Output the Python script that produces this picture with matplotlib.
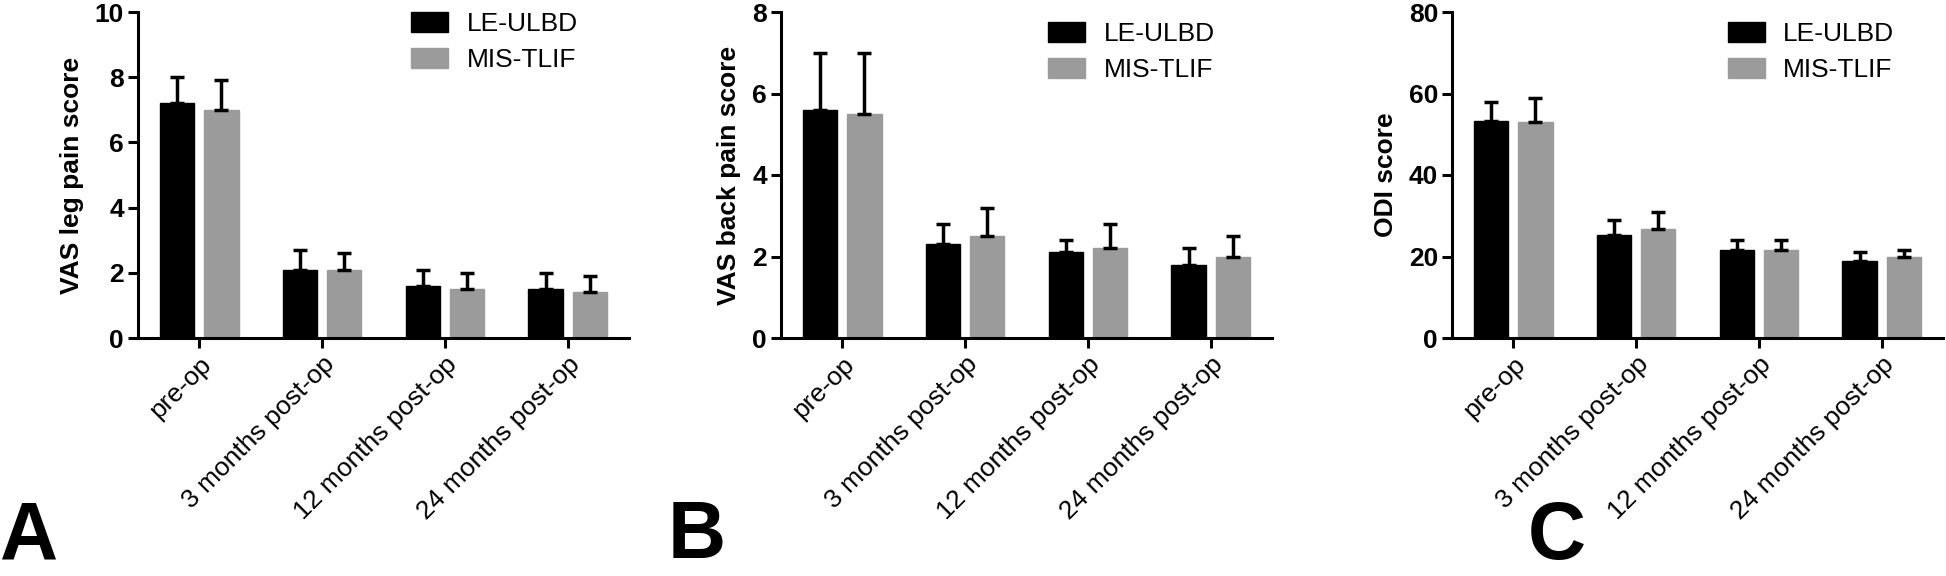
import matplotlib
matplotlib.use("Agg")
import matplotlib.pyplot as plt
import numpy as np

plt.rcParams["font.family"] = ["Liberation Sans", "DejaVu Sans"]

CATEGORIES = ["pre-op", "3 months post-op", "12 months post-op", "24 months post-op"]
GROUPS = ["LE-ULBD", "MIS-TLIF"]
COLORS = ["#000000", "#9b9b9b"]

# panel A: VAS leg pain
leg_ulbd = [7.2, 2.1, 1.6, 1.5]
leg_ulbd_sd = [0.8, 0.6, 0.5, 0.5]
leg_tlif = [7.0, 2.1, 1.5, 1.4]
leg_tlif_sd = [0.9, 0.5, 0.5, 0.5]

# panel B: VAS back pain
back_ulbd = [5.6, 2.3, 2.1, 1.8]
back_ulbd_sd = [1.4, 0.5, 0.3, 0.4]
back_tlif = [5.5, 2.5, 2.2, 2.0]
back_tlif_sd = [1.5, 0.7, 0.6, 0.5]

# panel C: ODI
odi_ulbd = [53.3, 25.3, 21.5, 18.8]
odi_ulbd_sd = [4.5, 3.7, 2.6, 2.3]
odi_tlif = [53.0, 26.8, 21.5, 19.8]
odi_tlif_sd = [6.0, 4.1, 2.6, 1.8]

PANELS = [
    ("A", "VAS leg pain score", 10, 2, (leg_ulbd, leg_ulbd_sd), (leg_tlif, leg_tlif_sd)),
    ("B", "VAS back pain score", 8, 2, (back_ulbd, back_ulbd_sd), (back_tlif, back_tlif_sd)),
    ("C", "ODI score", 80, 20, (odi_ulbd, odi_ulbd_sd), (odi_tlif, odi_tlif_sd)),
]

W, H = 1946, 576
AX_LEFT = [138, 781, 1452]
AX_W = 491
AX_TOP, AX_BOT = 12, 338
LEG_X = [0.556, 0.544, 0.562]
LEG_Y = [1.0, 0.97, 0.97]
LETTER_X = [0, 668, 1528]

fig = plt.figure(figsize=(W / 100, H / 100), dpi=100)

x = np.arange(len(CATEGORIES))
offsets = [-0.18, 0.18]
width = 0.28

for i, (letter, ylabel, ymax, ystep, s1, s2) in enumerate(PANELS):
    ax = fig.add_axes([AX_LEFT[i] / W, (H - AX_BOT) / H, AX_W / W, (AX_BOT - AX_TOP) / H])
    for j, (vals, sd) in enumerate([s1, s2]):
        ax.bar(x + offsets[j], vals, width, color=COLORS[j], edgecolor=COLORS[j],
               linewidth=1, label=GROUPS[j], zorder=2)
        ax.errorbar(x + offsets[j], vals, yerr=[np.zeros(len(sd)), sd], fmt="none",
                    ecolor="black", elinewidth=2.5, capsize=5, capthick=2.5, zorder=3)

    ax.set_xlim(-0.5, len(CATEGORIES) - 0.5)
    ax.set_ylim(0, ymax)
    ax.set_yticks(np.arange(0, ymax + ystep / 2, ystep))
    ax.set_xticks(x)
    ax.set_xticklabels(CATEGORIES, rotation=45, ha="right", rotation_mode="anchor",
                       fontsize=19)
    for lab in ax.get_yticklabels():
        lab.set_fontweight("bold")
        lab.set_fontsize(19)
    ax.set_ylabel(ylabel, fontsize=19, fontweight="bold", labelpad=8)

    for side in ["top", "right"]:
        ax.spines[side].set_visible(False)
    for side in ["left", "bottom"]:
        ax.spines[side].set_linewidth(2.2)
    ax.tick_params(axis="both", width=2.2, length=7, pad=3)

    ax.legend(loc="upper left", bbox_to_anchor=(LEG_X[i], LEG_Y[i]), frameon=False,
              fontsize=19, handlelength=1.4, handleheight=0.8, handletextpad=0.7,
              labelspacing=0.45, borderpad=0, borderaxespad=0)

    # panel letter in the bottom-left corner of each panel
    fig.text(LETTER_X[i] / W, 0.5 / H, letter, fontsize=58, fontweight="bold",
             ha="left", va="bottom")

fig.savefig("out.png", dpi=100)
